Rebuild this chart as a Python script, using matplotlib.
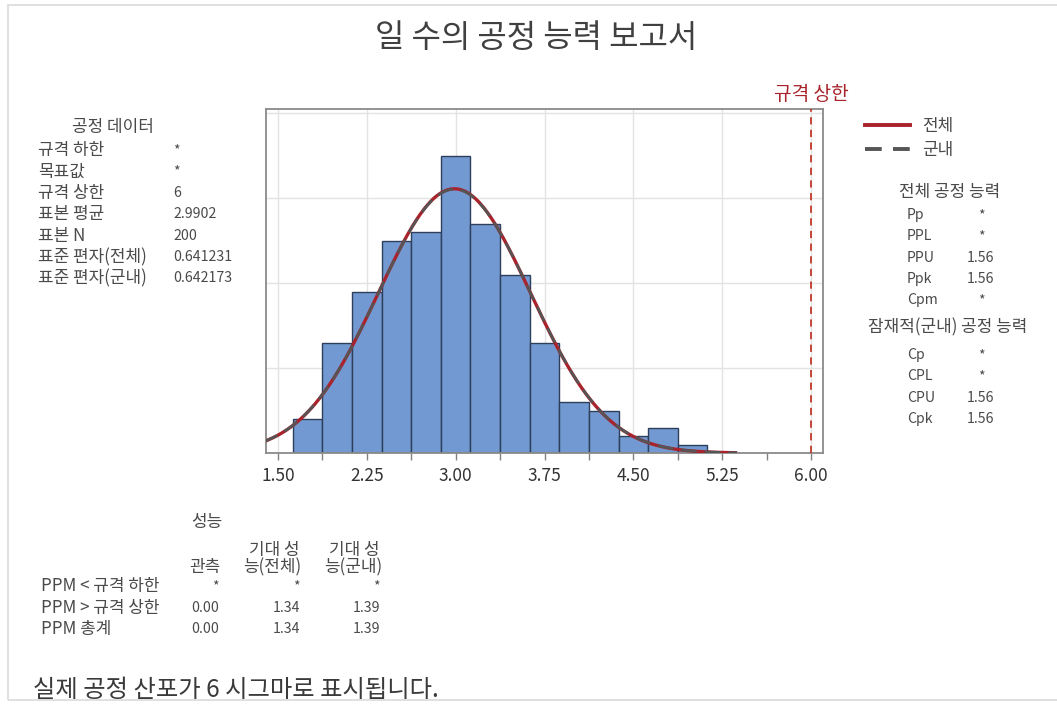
import numpy as np
import matplotlib
matplotlib.use("Agg")
import matplotlib.pyplot as plt
from matplotlib.lines import Line2D
from matplotlib.patches import Rectangle

plt.rcParams['font.family'] = ['Noto Sans CJK KR', 'DejaVu Sans']

# ---- data ----
title = "일 수의 공정 능력 보고서"
bin_start = 1.625
bin_width = 0.25
counts = [4, 13, 19, 25, 26, 35, 27, 21, 13, 6, 5, 2, 3, 1]
usl = 6.0
n = 200
mean = 2.9902
sd_overall = 0.641231
sd_within = 0.642173
xticks_major = [1.50, 2.25, 3.00, 3.75, 4.50, 5.25, 6.00]
xticks_minor = [1.875, 2.625, 3.375, 4.125, 4.875, 5.625]

process_labels = ["규격 하한", "목표값", "규격 상한", "표본 평균", "표본 N",
                  "표준 편자(전체)", "표준 편자(군내)"]
process_values = ["*", "*", "6", "2.9902", "200", "0.641231", "0.642173"]

overall_labels = ["Pp", "PPL", "PPU", "Ppk", "Cpm"]
overall_values = ["*", "*", "1.56", "1.56", "*"]
within_labels = ["Cp", "CPL", "CPU", "Cpk"]
within_values = ["*", "*", "1.56", "1.56"]

perf_rows = ["PPM < 규격 하한", "PPM > 규격 상한", "PPM 총계"]
perf_observed = ["*", "0.00", "0.00"]
perf_exp_overall = ["*", "1.34", "1.34"]
perf_exp_within = ["*", "1.39", "1.39"]

footer = "실제 공정 산포가 6 시그마로 표시됩니다."

# ---- figure ----
W, H = 1057, 704
fig = plt.figure(figsize=(W / 100, H / 100), dpi=100)
fig.patch.set_facecolor("white")

HANGUL_SIZE = 12.2
LATIN_SIZE = 10.2
TEXT_COLOR = "#4a4a4a"


def fx(px):
    return px / W


def fy(py):
    return 1 - py / H


def has_hangul(s):
    return any('\uac00' <= ch <= '\ud7a3' for ch in s)


def txt(x, y, s, **kw):
    kw.setdefault("color", TEXT_COLOR)
    kw.setdefault("fontsize", HANGUL_SIZE if has_hangul(s) else LATIN_SIZE)
    kw.setdefault("va", "center")
    fig.text(fx(x), fy(y), s, **kw)


# outer frame
fig.add_artist(Rectangle((fx(8), fy(700)), fx(1100), fy(5) - fy(700),
                         transform=fig.transFigure, fill=False,
                         edgecolor="#dadada", linewidth=1.2))

ax = fig.add_axes([fx(266), fy(453), fx(823) - fx(266), fy(109) - fy(453)])

edges = bin_start + bin_width * np.arange(len(counts) + 1)
ax.bar(edges[:-1], counts, width=bin_width, align="edge",
       color="#7299d2", edgecolor="#2e3f5c", linewidth=1.0, zorder=2)

xs = np.linspace(edges[0] - bin_width, edges[-1] + bin_width, 400)


def normal_curve(sd):
    return n * bin_width * np.exp(-0.5 * ((xs - mean) / sd) ** 2) / (sd * np.sqrt(2 * np.pi))


ax.plot(xs, normal_curve(sd_overall), color="#a8232b", lw=2.4, zorder=3,
        solid_capstyle="butt")
ax.plot(xs, normal_curve(sd_within), color="#555555", lw=1.9, zorder=4,
        dashes=(6, 3))

ax.axvline(usl, color="#c0392b", lw=1.3, ls=(0, (4, 3)), zorder=3)
ax.text(usl, 1.012, "규격 상한", transform=ax.get_xaxis_transform(),
        ha="center", va="bottom", color="#a8232b", fontsize=13.8)

ax.set_xlim(1.40, 6.10)
ax.set_ylim(0, 40.5)
ax.set_xticks(xticks_major)
ax.set_xticklabels([f"{t:.2f}" for t in xticks_major])
ax.set_xticks(xticks_minor, minor=True)
ax.set_yticks([10, 20, 30, 40])
ax.tick_params(axis="y", left=False, labelleft=False)
ax.tick_params(axis="x", which="both", direction="out", length=5,
               color="#808080", width=1.0, labelsize=12.5,
               labelcolor="#333333", pad=5)
ax.grid(True, which="major", color="#e3e3e3", lw=1.0, zorder=0)
ax.set_axisbelow(True)
for sp in ax.spines.values():
    sp.set_color("#8a8a8a")
    sp.set_linewidth(1.3)

# title
txt(536, 38, title, fontsize=23, ha="center", color="#404040")

# process data panel
txt(113, 127, "공정 데이터", ha="center")
for i, (lab, val) in enumerate(zip(process_labels, process_values)):
    y = 150 + i * 21.4
    txt(38, y, lab)
    txt(173, y, val)

# legend
fig.add_artist(Line2D([fx(865), fx(910)], [fy(125), fy(125)], color="#a8232b",
                      lw=2.8, transform=fig.transFigure))
fig.add_artist(Line2D([fx(865), fx(910)], [fy(149), fy(149)], color="#555555",
                      lw=2.8, dashes=(4.3, 2.9), transform=fig.transFigure))
txt(922, 126, "전체")
txt(922, 150, "군내")

# capability panel
txt(950, 192, "전체 공정 능력", ha="center")
for i, (lab, val) in enumerate(zip(overall_labels, overall_values)):
    y = 215 + i * 21.3
    txt(907, y, lab)
    txt(981, y, val, ha="center")
txt(948, 327, "잠재적(군내) 공정 능력", ha="center")
for i, (lab, val) in enumerate(zip(within_labels, within_values)):
    y = 355 + i * 21.3
    txt(907, y, lab)
    txt(981, y, val, ha="center")

# performance table
txt(207, 522, "성능", ha="center")
txt(300, 550, "기대 성", ha="right")
txt(380, 550, "기대 성", ha="right")
txt(220, 567, "관측", ha="right")
txt(301, 567, "능(전체)", ha="right")
txt(382, 567, "능(군내)", ha="right")
for i, lab in enumerate(perf_rows):
    y = 586 + i * 21.5
    txt(41, y, lab)
    txt(219, y, perf_observed[i], ha="right")
    txt(300, y, perf_exp_overall[i], ha="right")
    txt(380, y, perf_exp_within[i], ha="right")

txt(33, 690, footer, fontsize=17.5, color="#3a3a3a")

fig.savefig("out.png", dpi=100)
